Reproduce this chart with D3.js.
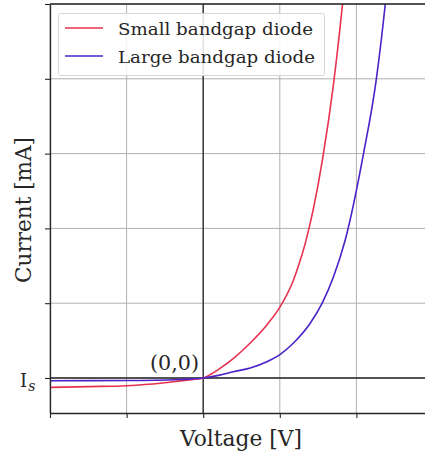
<!DOCTYPE html>
<html>
<head>
<meta charset="utf-8">
<script src="https://cdn.jsdelivr.net/npm/d3@7"></script>
<style>
  html, body { margin: 0; padding: 0; background: #fff; }
  svg { display: block; }
</style>
</head>
<body>
<svg id="chart" width="425" height="457"></svg>
<script>
// Voltage ticks (V) and current ticks (arbitrary units, 0 = saturation level)
const xTicks = [-2, -1, 0, 1, 2, 3];
const yTicks = [0, 1, 2, 3, 4, 5];
const yTickLabels = ["Is", "", "", "", "", ""];

// Sampled I–V curves
const smallGapV = [-2.0, -1.5, -1.0, -0.56, -0.3, -0.15, 0.0, 0.1, 0.2, 0.396, 0.614, 0.831, 1.005, 1.179, 1.25, 1.332, 1.45, 1.557, 1.701, 1.818, 1.9];
const smallGapI = [-0.125, -0.115, -0.103, -0.071, -0.038, -0.022, 0.0, 0.05, 0.115, 0.263, 0.468, 0.709, 0.953, 1.31, 1.52, 1.80, 2.32, 2.92, 3.93, 4.99, 5.85];

const largeGapV = [-2.0, -1.0, -0.3, 0.0, 0.2, 0.396, 0.614, 0.831, 1.005, 1.179, 1.397, 1.553, 1.7, 1.854, 2.093, 2.258, 2.376, 2.45];
const largeGapI = [-0.036, -0.034, -0.02, 0.0, 0.035, 0.084, 0.134, 0.218, 0.317, 0.468, 0.731, 1.0, 1.35, 1.845, 3.0, 3.98, 4.99, 5.75];

const seriesNames = ["Small bandgap diode", "Large bandgap diode"];
const seriesColors = ["#e8314e", "#4a22c8"];

const FONT = "'DejaVu Serif', 'Liberation Serif', serif";
const INK = "#262626";

const svg = d3.select("#chart");
const pLeft = 50, pRight = 433, pTop = 4, pBottom = 413;

const x = d3.scaleLinear().domain([-2, 3]).range([pLeft, pRight]);
const y = d3.scaleLinear().domain([-0.468, 5]).range([pBottom, pTop]);

// grid
const grid = svg.append("g").attr("stroke", "#b0b0b0").attr("stroke-width", 1);
xTicks.forEach(v => grid.append("line")
  .attr("x1", x(v)).attr("x2", x(v)).attr("y1", pTop).attr("y2", pBottom));
yTicks.forEach(v => grid.append("line")
  .attr("x1", pLeft).attr("x2", pRight).attr("y1", y(v)).attr("y2", y(v)));

// zero axes through the origin
svg.append("line").attr("x1", pLeft).attr("x2", pRight)
  .attr("y1", y(0)).attr("y2", y(0)).attr("stroke", INK).attr("stroke-width", 1.3);
svg.append("line").attr("x1", x(0)).attr("x2", x(0))
  .attr("y1", pTop).attr("y2", pBottom).attr("stroke", INK).attr("stroke-width", 1.3);

// clip for the curves
svg.append("clipPath").attr("id", "plot-clip").append("rect")
  .attr("x", pLeft).attr("y", pTop).attr("width", pRight - pLeft).attr("height", pBottom - pTop);

const line = d3.line()
  .x(d => x(d[0])).y(d => y(d[1]))
  .curve(d3.curveMonotoneX);

const curves = [
  d3.zip(smallGapV, smallGapI),
  d3.zip(largeGapV, largeGapI)
];
curves.forEach((pts, i) => {
  svg.append("path")
    .datum(pts)
    .attr("clip-path", "url(#plot-clip)")
    .attr("fill", "none")
    .attr("stroke", seriesColors[i])
    .attr("stroke-width", 1.6)
    .attr("d", line);
});

// axes
const xAxis = d3.axisBottom(x).tickValues(xTicks).tickFormat("").tickSize(5).tickSizeOuter(0);
const gx = svg.append("g").attr("transform", `translate(0,${pBottom})`).call(xAxis);
const yAxis = d3.axisLeft(y).tickValues(yTicks).tickFormat("").tickSize(5).tickSizeOuter(0);
const gy = svg.append("g").attr("transform", `translate(${pLeft},0)`).call(yAxis);
[gx, gy].forEach(g => {
  g.selectAll("path.domain").attr("stroke", INK).attr("stroke-width", 1.3);
  g.selectAll(".tick line").attr("stroke", INK).attr("stroke-width", 1.1);
});
// top spine
svg.append("line").attr("x1", pLeft).attr("x2", pRight).attr("y1", pTop).attr("y2", pTop)
  .attr("stroke", INK).attr("stroke-width", 1.3);

// y tick label for saturation current
yTicks.forEach((v, i) => {
  if (!yTickLabels[i]) return;
  const t = svg.append("text")
    .attr("x", 20).attr("y", y(v) + 9)
    .attr("font-family", FONT).attr("font-size", 18).attr("fill", INK);
  t.append("tspan").text(yTickLabels[i][0]);
  t.append("tspan").attr("font-size", 14).attr("font-style", "italic").attr("dy", 4).attr("dx", 1)
    .text(yTickLabels[i].slice(1));
});

// origin annotation
svg.append("text").attr("x", 150).attr("y", y(0) - 8)
  .attr("font-family", FONT).attr("font-size", 20.5).attr("fill", INK)
  .attr("textLength", 49).attr("lengthAdjust", "spacingAndGlyphs").text("(0,0)");

// axis titles
svg.append("text").attr("x", 180).attr("y", 446)
  .attr("font-family", FONT).attr("font-size", 21.5).attr("fill", INK)
  .attr("textLength", 122).attr("lengthAdjust", "spacingAndGlyphs").text("Voltage [V]");
svg.append("text")
  .attr("transform", `translate(31,283) rotate(-90)`)
  .attr("font-family", FONT).attr("font-size", 21.5).attr("fill", INK)
  .attr("textLength", 146).attr("lengthAdjust", "spacingAndGlyphs").text("Current [mA]");

// legend
const lg = svg.append("g");
lg.append("rect").attr("x", 58.5).attr("y", 13.5).attr("width", 266).attr("height", 62)
  .attr("fill", "#fff").attr("fill-opacity", 0.85).attr("stroke", "#d6d6d6").attr("rx", 2);
const legendWidths = [195, 197];
seriesNames.forEach((name, i) => {
  const yy = 28 + i * 28;
  lg.append("line").attr("x1", 65).attr("x2", 103).attr("y1", yy).attr("y2", yy)
    .attr("stroke", seriesColors[i]).attr("stroke-width", 1.6);
  lg.append("text").attr("x", 118).attr("y", yy + 7).attr("font-family", FONT).attr("font-size", 17.4)
    .attr("textLength", legendWidths[i]).attr("lengthAdjust", "spacingAndGlyphs")
    .attr("fill", INK).text(name);
});
</script>
</body>
</html>
